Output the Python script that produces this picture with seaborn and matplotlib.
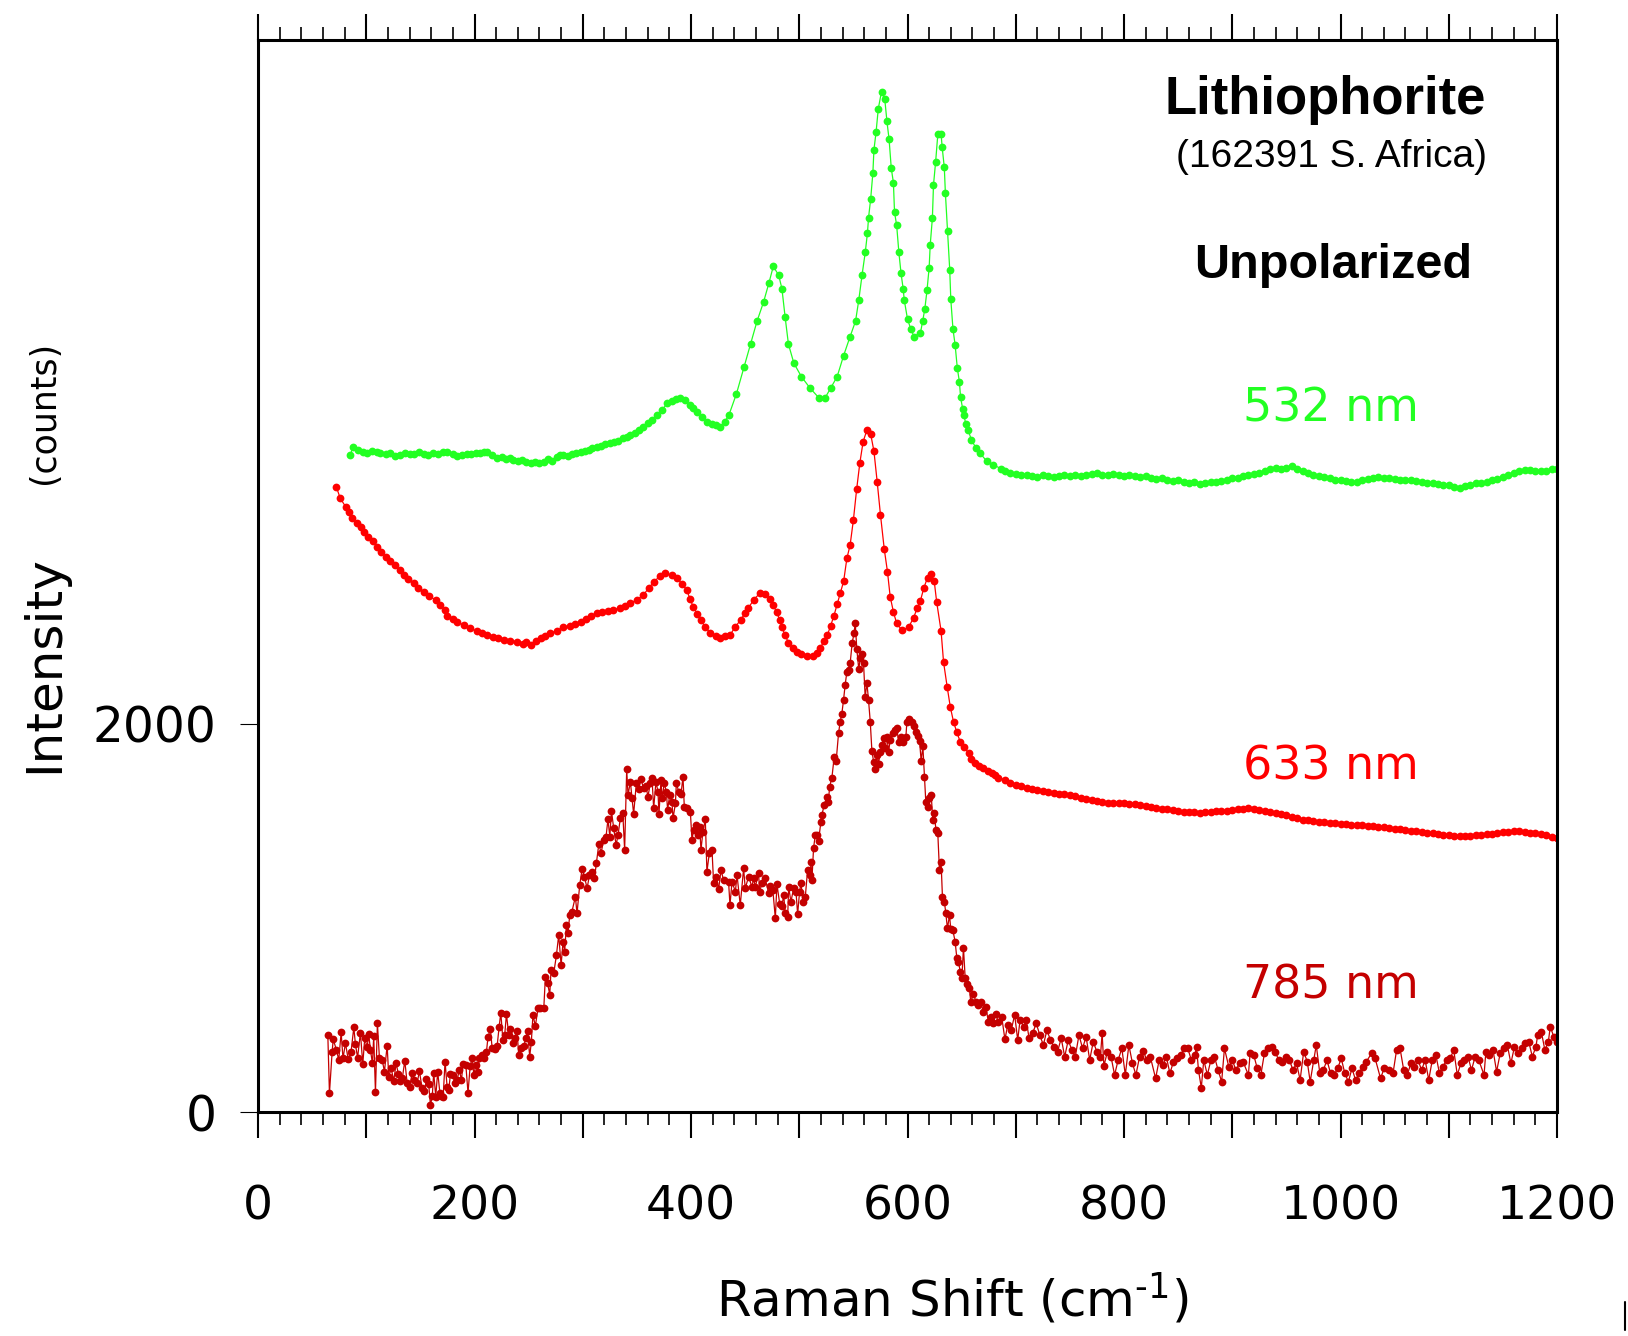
import matplotlib
matplotlib.use("Agg")
import matplotlib.pyplot as plt
import seaborn as sns
from matplotlib.ticker import MultipleLocator, FuncFormatter
from matplotlib.lines import Line2D

sns.set_style("ticks")
plt.rcParams["font.family"] = ["DejaVu Sans"]
plt.rcParams["text.color"] = "black"
plt.rcParams["axes.labelcolor"] = "black"
plt.rcParams["xtick.color"] = "black"
plt.rcParams["ytick.color"] = "black"
plt.rcParams["axes.edgecolor"] = "black"

# ---------------- data ----------------
labels = ["532 nm", "633 nm", "785 nm"]
colors = ["#22FF22", "#FF0000", "#C40000"]

x532_main = [85, 88, 92, 97, 101, 105, 110, 113, 118, 122,
             127, 131, 136, 140, 144, 149, 153, 157, 162, 166,
             171, 175, 180, 184, 188, 193, 197, 201, 205, 209,
             212, 216, 221, 225, 229, 233, 236, 240, 244, 248,
             252, 256, 260, 264, 268, 272, 276, 279, 282, 286,
             290, 294, 298, 302, 306, 309, 313, 317, 321, 325,
             329, 333, 337, 341, 344, 348, 352, 356, 360, 364,
             369, 373, 378, 382, 386, 390, 394, 399, 402, 406,
             410, 415, 419, 423, 427, 431, 435, 442, 449, 455,
             461, 467, 472, 476, 481, 484, 487, 490, 495, 502,
             510, 518, 524, 529, 535, 541, 547, 552, 555, 558,
             561, 563, 564, 566, 568, 569, 571, 573, 576, 579,
             581, 583, 585, 587, 588, 590, 592, 594, 596, 597,
             600, 603, 606, 612, 614, 616, 618, 620, 621, 623,
             624, 626, 628, 631, 632, 634, 635, 637, 639, 640,
             642, 644, 646, 648, 649, 651, 652, 654, 656, 659,
             663, 667, 673, 679, 686]
y532_main = [3384, 3427, 3410, 3401, 3395, 3405, 3398, 3393, 3388, 3396,
             3380, 3386, 3393, 3388, 3390, 3398, 3392, 3385, 3395, 3390,
             3398, 3401, 3388, 3379, 3385, 3392, 3388, 3395, 3393, 3398,
             3401, 3386, 3367, 3375, 3362, 3368, 3358, 3352, 3360, 3350,
             3345, 3350, 3342, 3350, 3362, 3355, 3376, 3385, 3384, 3378,
             3392, 3396, 3401, 3405, 3410, 3420, 3427, 3432, 3440, 3447,
             3453, 3458, 3470, 3478, 3487, 3500, 3512, 3530, 3548, 3565,
             3590, 3615, 3650, 3665, 3672, 3676, 3668, 3642, 3625, 3607,
             3580, 3556, 3545, 3538, 3530, 3555, 3590, 3700, 3838, 3956,
             4074, 4172, 4271, 4356, 4311, 4241, 4093, 3956, 3858, 3788,
             3729, 3680, 3680, 3729, 3788, 3897, 3995, 4074, 4183, 4311,
             4430, 4528, 4606, 4705, 4837, 4957, 5050, 5168, 5257, 5218,
             5103, 5010, 4862, 4787, 4636, 4567, 4430, 4322, 4241, 4183,
             4085, 4034, 3995, 4015, 4074, 4137, 4232, 4350, 4468, 4606,
             4775, 4896, 5036, 5040, 4971, 4866, 4734, 4538, 4340, 4186,
             4034, 3951, 3833, 3759, 3683, 3621, 3591, 3542, 3513, 3463,
             3423, 3394, 3354, 3335, 3315]

# flat tail, sampled every 5 cm-1 from 690 to 1200
x_tail = list(range(690, 1201, 5))
y532_tail = [3300, 3290, 3285, 3279, 3282, 3275, 3272, 3280, 3276, 3270,
             3278, 3283, 3276, 3281, 3275, 3284, 3288, 3291, 3284, 3279,
             3286, 3281, 3277, 3282, 3274, 3271, 3275, 3268, 3262, 3265,
             3256, 3251, 3254, 3246, 3240, 3244, 3236, 3242, 3248, 3245,
             3252, 3258, 3264, 3268, 3274, 3280, 3288, 3292, 3302, 3312,
             3318, 3314, 3320, 3326, 3312, 3300, 3290, 3284, 3276, 3272,
             3265, 3258, 3254, 3250, 3244, 3248, 3256, 3262, 3268, 3270,
             3264, 3266, 3262, 3258, 3254, 3256, 3250, 3246, 3242, 3240,
             3236, 3230, 3228, 3220, 3212, 3224, 3232, 3238, 3240, 3246,
             3254, 3262, 3272, 3282, 3290, 3300, 3307, 3305, 3302, 3304,
             3300, 3312, 3310]

x633_main = [72.5, 76, 81, 84, 87, 91, 95, 98, 102, 106,
             110, 114, 118, 122, 127, 131, 135, 139, 144, 148,
             153, 158, 164, 168, 173, 175, 180, 184, 190, 196,
             202, 207, 212, 217, 222, 227, 233, 239, 245, 248,
             252, 257, 261, 265, 270, 276, 282, 288, 293, 298,
             303, 308, 313, 318, 323, 328, 334, 339, 344, 350,
             356, 361, 366, 371, 376, 382, 387, 392, 396, 399,
             402, 406, 409, 413, 418, 423, 427, 431, 436, 441,
             446, 450, 453, 458, 464, 468, 473, 476, 479, 482,
             484, 487, 490, 494, 498, 502, 507, 513, 516, 519,
             523, 526, 529, 532, 535, 538, 541, 544, 547, 550,
             553, 556, 559, 562.5, 566, 569, 572, 575, 578.5, 581.5,
             584, 587, 590, 595, 601, 605.6, 609, 612, 615, 618.5,
             621.6, 624.7, 627, 631, 633.3, 636.7, 639.5, 642.5, 645.6, 648.7,
             652.4, 656.4, 659, 662.5, 666, 670, 674, 678, 681, 684]
y633_main = [3218, 3161, 3118, 3090, 3058, 3035, 3015, 2990, 2963, 2940,
             2912, 2885, 2860, 2840, 2817, 2790, 2766, 2745, 2723, 2700,
             2680, 2660, 2637, 2612, 2586, 2555, 2540, 2525, 2508, 2491,
             2478, 2468, 2457, 2447, 2440, 2431, 2428, 2423, 2412, 2420,
             2406, 2425, 2440, 2450, 2466, 2480, 2497, 2506, 2515, 2525,
             2540, 2555, 2569, 2575, 2580, 2586, 2597, 2608, 2620, 2640,
             2663, 2700, 2732, 2760, 2775, 2765, 2749, 2720, 2689, 2645,
             2603, 2565, 2534, 2500, 2466, 2450, 2440, 2450, 2457, 2500,
             2536, 2570, 2596, 2640, 2674, 2670, 2645, 2610, 2576, 2535,
             2497, 2455, 2418, 2390, 2369, 2358, 2349, 2349, 2365, 2389,
             2425, 2457, 2505, 2556, 2615, 2674, 2734, 2852, 2921, 3049,
             3207, 3345, 3453, 3513, 3492, 3404, 3246, 3078, 2901, 2783,
             2655, 2576, 2517, 2481, 2497, 2546, 2596, 2635, 2698, 2753,
             2769, 2734, 2625, 2479, 2318, 2188, 2088, 2010, 1956, 1907,
             1882, 1847, 1820, 1796, 1785, 1770, 1758, 1745, 1735, 1722]
y633_tail = [1712, 1693, 1685, 1678, 1670, 1665, 1660, 1652, 1646, 1642,
             1640, 1637, 1633, 1628, 1620, 1614, 1607, 1602, 1596, 1590,
             1592, 1590, 1591, 1588, 1585, 1582, 1578, 1572, 1566, 1563,
             1560, 1556, 1552, 1548, 1545, 1544, 1542, 1544, 1546, 1549,
             1550, 1553, 1556, 1560, 1563, 1564, 1560, 1556, 1552, 1548,
             1540, 1534, 1530, 1522, 1514, 1505, 1502, 1499, 1496, 1494,
             1491, 1488, 1486, 1483, 1480, 1478, 1476, 1473, 1471, 1469,
             1466, 1463, 1460, 1456, 1452, 1449, 1446, 1442, 1439, 1436,
             1432, 1428, 1426, 1424, 1422, 1421, 1423, 1425, 1427, 1430,
             1433, 1436, 1440, 1445, 1449, 1446, 1441, 1439, 1435, 1430,
             1425, 1417, 1410]

x785 = [64.5, 66, 68.5, 69.5, 72.5, 74.6, 76.8, 78.5, 80.8, 83.3,
        86, 88.5, 90, 92, 94.6, 96.8, 98.6, 100.8, 102.3, 103.9,
        105.7, 106.9, 108.5, 110.3, 112.2, 114.7, 116.8, 119.3, 120.8, 123,
        125.4, 127.6, 129.7, 131.6, 133.4, 135.6, 137.8, 140.2, 142.4, 144.5,
        147, 149.1, 151.6, 153.7, 155.6, 157.7, 159.3, 161, 162.3, 164.2,
        166, 168, 169.5, 171, 172.8, 174.7, 176.2, 177.8, 179.9, 181.8,
        183.9, 186, 187.9, 189.5, 192, 194, 196, 198, 199.3, 201.2,
        203, 204.6, 207, 209.2, 211, 212.5, 214.7, 216.3, 218.8, 220.9,
        222.7, 224.3, 226.2, 227.9, 229.5, 231.7, 233.2, 235.4, 237.2, 239.3,
        240.8, 243, 245.4, 247.6, 249, 251, 252.5, 254, 256.2, 258.7,
        260.9, 264, 265.5, 267.6, 269.5, 270.7, 273.2, 275.7, 277.8, 280,
        281.8, 283.3, 284.9, 286.4, 288, 290, 293.2, 294.7, 297.2, 299.4,
        301.6, 304, 306.2, 308.6, 310.8, 312.6, 314.8, 317, 319.3, 321.5,
        323.3, 325, 326.5, 328.6, 330.8, 332.6, 334.7, 337, 338.7, 340.6,
        341.8, 344, 345.5, 347, 349.5, 351.6, 353.8, 356.2, 358.4, 360.2,
        362.4, 364, 365.5, 367.6, 369.5, 370.4, 372.3, 373.2, 375.3, 377.2,
        378.4, 380.3, 382.4, 383.4, 385.6, 386.5, 388.6, 390.8, 392.6, 393.8,
        396.3, 399.4, 400.9, 402.4, 404.9, 406.4, 408, 409.2, 411, 413.2,
        414.7, 416.9, 419.4, 420.9, 423.4, 425.5, 427.7, 430.1, 434.7, 436,
        437.9, 441, 442.5, 445.5, 448.6, 450.1, 453.2, 456.3, 457.8, 459.4,
        462.4, 463.4, 465.5, 468.6, 471.7, 473.2, 475.6, 477.9, 479.4, 481.9,
        484, 485.6, 487.1, 489.3, 490.2, 492.3, 494.8, 497, 498.5, 500.3,
        501.6, 503.4, 505.6, 507.7, 510.2, 510.8, 511.7, 513.2, 514.8, 516.3,
        517.8, 520, 520.9, 523, 525.5, 527, 528, 530.1, 532.3, 534.1,
        536.3, 537.8, 539.3, 540.9, 542.4, 544, 545.5, 547, 548.9, 550.7,
        551.7, 553.2, 555, 556.3, 558.1, 559.4, 560.9, 562.5, 564, 565.6,
        567.1, 568.7, 570.2, 571.7, 573.3, 574.8, 576.4, 577.9, 579.4, 581,
        582.5, 584, 586.5, 588.6, 590.2, 591.7, 593.9, 596.3, 598.5, 599.4,
        601.6, 604, 606.2, 608, 609.6, 611.1, 612.6, 614.2, 615.7, 616.9,
        618.5, 620, 621.9, 623.4, 624.9, 626.2, 628, 629.5, 631, 632.3,
        634.1, 635.4, 636.9, 638.8, 640, 641.9, 644, 645.6, 647.1, 648.7,
        650.2, 651.7, 653.3, 655.4, 657.2, 658.4, 660.9, 663.3, 665.4, 667.6,
        670, 672.5, 674.6, 676.8, 679.3, 681.4, 683.9, 687, 690, 692.6,
        695.8, 699, 701.8, 704, 707.4, 709.7, 712.3, 715.6, 718.9, 722.2,
        725.5, 728.8, 732, 735.3, 738.6, 742, 745.2, 748.5, 751.8, 755,
        758.4, 761.7, 765, 768.3, 771.6, 774.9, 778.2, 779.8, 781.4, 784.7,
        788, 791.3, 794.6, 798, 801.2, 804.5, 807.8, 811, 814.4, 817.7,
        821, 824.3, 829.2, 832.5, 835.8, 839.1, 842.4, 845.7, 849, 852.3,
        855.6, 858.9, 862.2, 865.5, 867, 868.8, 871.4, 873.7, 877, 880.3,
        883.6, 886.9, 890.2, 892.8, 896.8, 900, 903.4, 906.7, 910, 914.9,
        916.5, 919.8, 923.1, 926.4, 929.7, 933, 936.3, 939.6, 942.9, 946.2,
        949.5, 952.8, 956.1, 959.4, 962.7, 966, 969.3, 972, 975.3, 977.6,
        980.9, 984.2, 987.5, 990.8, 994, 997.4, 1000.7, 1004, 1007.3, 1010.6,
        1013.9, 1017.2, 1020.5, 1023.8, 1028.7, 1032, 1037, 1040.3, 1045.2, 1048.5,
        1051.8, 1055, 1058.4, 1061.7, 1065, 1068.3, 1071.6, 1074.9, 1078.2, 1081.5,
        1084.8, 1088.1, 1091.4, 1094.7, 1098, 1101.3, 1104.6, 1107.9, 1111.2, 1114.5,
        1117.8, 1121, 1124.4, 1127.7, 1132.6, 1134.3, 1137.6, 1140.9, 1144.2, 1147.5,
        1150.8, 1154.1, 1157.4, 1160.7, 1164, 1167.3, 1170.6, 1173.9, 1177.2, 1180.5,
        1182.2, 1185.5, 1188.8, 1192, 1193.8, 1197, 1199.7]
y785 = [397, 96, 311, 374, 319, 268, 410, 276, 354, 272,
        311, 436, 349, 280, 408, 247, 380, 333, 400, 319,
        251, 391, 101, 457, 276, 270, 208, 342, 182, 225,
        161, 251, 194, 161, 177, 264, 148, 130, 203, 165,
        148, 211, 122, 108, 168, 143, 36, 82, 203, 79,
        208, 99, 82, 75, 259, 130, 113, 196, 191, 148,
        165, 216, 165, 247, 242, 99, 237, 276, 191, 242,
        208, 280, 294, 276, 308, 388, 426, 328, 323, 340,
        436, 512, 371, 397, 503, 397, 426, 357, 380, 419,
        294, 328, 340, 380, 419, 285, 362, 500, 443, 534,
        534, 534, 697, 663, 603, 731, 714, 809, 912, 757,
        877, 826, 963, 924, 1015, 1032, 1109, 1023, 1169, 1252,
        1212, 1152, 1220, 1238, 1203, 1281, 1379, 1336, 1401, 1418,
        1508, 1418, 1552, 1461, 1375, 1427, 1512, 1538, 1350, 1765,
        1633, 1701, 1616, 1535, 1693, 1662, 1714, 1667, 1680, 1624,
        1693, 1719, 1564, 1701, 1650, 1535, 1710, 1616, 1693, 1650,
        1556, 1633, 1598, 1512, 1590, 1697, 1650, 1638, 1727, 1573,
        1564, 1547, 1401, 1453, 1478, 1427, 1470, 1350, 1444, 1508,
        1238, 1332, 1350, 1178, 1212, 1147, 1246, 1195, 1186, 1066,
        1186, 1135, 1221, 1066, 1255, 1152, 1212, 1160, 1203, 1160,
        1230, 1135, 1178, 1203, 1127, 1164, 1143, 998, 1173, 1074,
        1061, 1117, 1023, 1003, 1160, 1083, 1152, 1135, 1018, 1135,
        1182, 1083, 1109, 1247, 1221, 1286, 1195, 1358, 1427, 1427,
        1396, 1495, 1530, 1581, 1624, 1598, 1676, 1719, 1830, 1808,
        1951, 2010, 2050, 2122, 2200, 2268, 2277, 2311, 2417, 2469,
        2520, 2383, 2280, 2337, 2359, 2311, 2136, 2211, 2122, 2010,
        1861, 1804, 1767, 1839, 1795, 1856, 1890, 1925, 1873, 1934,
        1856, 1916, 1954, 1968, 1976, 1908, 1934, 1908, 1930, 2010,
        2022, 2010, 1987, 1959, 1937, 1913, 1810, 1883, 1727, 1598,
        1573, 1616, 1633, 1504, 1542, 1453, 1435, 1247, 1289, 1106,
        1083, 1023, 946, 1014, 941, 937, 877, 792, 774, 723,
        688, 846, 688, 659, 637, 568, 607, 568, 551, 568,
        517, 543, 465, 491, 457, 504, 465, 491, 374, 448,
        422, 500, 371, 474, 440, 474, 380, 405, 457, 397,
        345, 422, 371, 336, 311, 380, 285, 371, 319, 285,
        397, 328, 388, 268, 362, 311, 285, 405, 237, 311,
        285, 191, 268, 328, 191, 345, 251, 191, 285, 316,
        268, 285, 173, 268, 242, 285, 199, 259, 276, 294,
        328, 328, 268, 294, 336, 216, 125, 268, 191, 268,
        285, 216, 156, 328, 233, 268, 216, 251, 259, 191,
        302, 294, 225, 191, 302, 328, 336, 311, 268, 259,
        285, 268, 216, 251, 165, 311, 259, 156, 268, 345,
        199, 216, 268, 199, 191, 225, 276, 199, 156, 225,
        165, 199, 233, 259, 302, 276, 173, 225, 216, 199,
        319, 328, 216, 191, 251, 233, 268, 216, 268, 165,
        268, 294, 199, 233, 268, 276, 319, 191, 251, 268,
        285, 216, 285, 268, 191, 311, 294, 319, 208, 302,
        328, 345, 251, 336, 302, 328, 354, 362, 285, 336,
        397, 414, 319, 362, 440, 388, 362]

x532 = x532_main + x_tail
y532 = y532_main + y532_tail
x633 = x633_main + x_tail
y633 = y633_main + y633_tail

xtick_labels = ["0", "200", "400", "600", "800", "1000", "1200"]
ytick_values = [0, 2000]

# ---------------- figure ----------------
W, H = 1628, 1336
fig = plt.figure(figsize=(W / 100, H / 100), dpi=100)
ax = fig.add_axes([258 / W, 1 - 1112 / H, (1557 - 258) / W, (1112 - 39.5) / H])

series = [(x532, y532), (x633, y633), (x785, y785)]
for (xs, ys), c in zip(series, colors):
    sns.lineplot(x=xs, y=ys, ax=ax, color=c, linewidth=0.9, marker="o",
                 markersize=5.6, markeredgewidth=0, sort=False,
                 estimator=None, legend=False)

ax.set_xlim(0, 1200)
ax.set_ylim(0, 5525)
ax.set_xlabel("")
ax.set_ylabel("")

ax.xaxis.set_major_locator(MultipleLocator(100))
ax.xaxis.set_minor_locator(MultipleLocator(20))
lab_map = {i * 200: t for i, t in enumerate(xtick_labels)}
ax.xaxis.set_major_formatter(FuncFormatter(lambda v, p: lab_map.get(int(round(v)), "")))
ax.set_yticks(ytick_values)
ax.set_yticklabels([str(v) for v in ytick_values])

ax.tick_params(axis="x", which="major", direction="out", length=18.5, width=1.5,
               top=True, bottom=True, labelsize=34, pad=34, color="black",
               labelcolor="black")
ax.tick_params(axis="x", which="minor", direction="out", length=9.5, width=1.2,
               top=True, bottom=True, color="black")
ax.tick_params(axis="y", which="major", direction="out", length=13, width=0.8,
               left=True, right=False, labelsize=35, pad=17, color="black",
               labelcolor="black")
for s in ax.spines.values():
    s.set_visible(True)
    s.set_linewidth(2.2)
    s.set_color("black")

# labels
fig.text(0.0274, 0.5026, "Intensity", rotation=90, ha="center", va="center",
         fontsize=36, color="black")
fig.text(0.0268, 0.6916, "(counts)", rotation=90, ha="center", va="center",
         fontsize=25, color="black")
fig.text(716 / W, 0.0146, "Raman Shift (cm$^{\\mathregular{\u2010}1}$)", ha="left",
         va="baseline", fontsize=36, color="black")

fig.text(1325 / W, 1 - 114 / H, "Lithiophorite", ha="center", va="baseline",
         fontsize=38, fontweight="bold", color="black",
         family=["Liberation Sans", "DejaVu Sans"])
fig.text(1331 / W, 1 - 167 / H, "(162391 S. Africa)", ha="center", va="baseline",
         fontsize=28, color="black", family=["Liberation Sans", "DejaVu Sans"])
fig.text(1333 / W, 1 - 278 / H, "Unpolarized", ha="center", va="baseline",
         fontsize=35, fontweight="bold", color="black",
         family=["Liberation Sans", "DejaVu Sans"])

label_base = [421.5, 779.7, 998.8]
for lab, c, b in zip(labels, colors, label_base):
    fig.text(1331 / W, 1 - b / H, lab, ha="center", va="baseline", fontsize=33,
             color=c)

fig.add_artist(Line2D([1625 / W, 1625 / W], [1 - 1330 / H, 1 - 1302 / H],
                      color="black", lw=1.5))

fig.savefig("out.png", dpi=100)
